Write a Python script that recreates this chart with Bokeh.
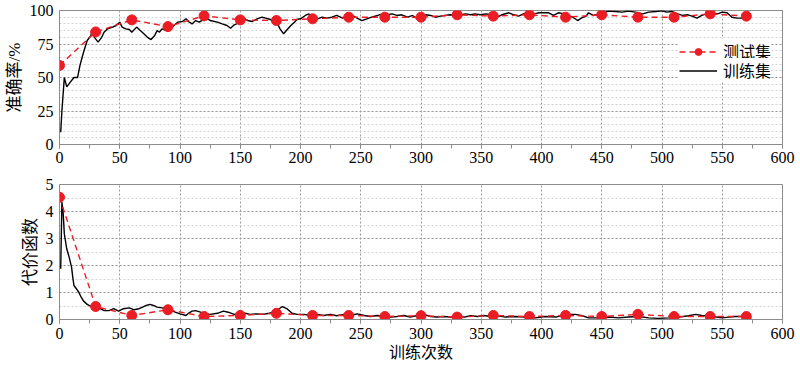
from bokeh.plotting import figure
from bokeh.models import Range1d, SingleIntervalTicker, Legend, LegendItem
from bokeh.layouts import column
from bokeh.embed import file_html
from bokeh.resources import INLINE

# ---------------- data ----------------
test_iter = [0, 30, 60, 90, 120, 150, 180, 210, 240, 270,
             300, 330, 360, 390, 420, 450, 480, 510, 540, 570]
test_acc = [59, 84, 93, 88, 96, 93, 92.5, 93.8, 95, 95,
            95, 96.8, 95.8, 96.8, 95, 96.8, 95, 95, 97.5, 95.8]
test_cost = [4.53, 0.48, 0.15, 0.36, 0.11, 0.15, 0.23, 0.15, 0.15, 0.11,
             0.14, 0.09, 0.15, 0.11, 0.15, 0.11, 0.19, 0.11, 0.11, 0.11]

train_acc_iter = [1, 2, 4, 6, 9, 12, 15, 17, 20, 23,
                  26, 27, 29, 32, 35, 37, 40, 44, 47, 50,
                  52, 55, 58, 60, 64, 67, 70, 73, 76, 79,
                  81, 83, 85, 89, 92, 95, 98, 102, 105, 107,
                  110, 113, 116, 118, 123, 125, 131, 135, 139, 142,
                  145, 147, 150, 153, 156, 160, 164, 168, 171, 175,
                  178, 181, 183, 186, 189, 192, 195, 197, 200, 204,
                  207, 210, 214, 218, 222, 226, 230, 235, 239, 243,
                  247, 251, 255, 259, 264, 268, 272, 276, 280, 284,
                  289, 293, 297, 300, 304, 308, 312, 316, 320, 324,
                  329, 333, 337, 341, 345, 349, 354, 358, 362, 367,
                  373, 377, 381, 385, 390, 394, 398, 402, 406, 410,
                  414, 419, 423, 426, 430, 433, 437, 439, 443, 448,
                  452, 456, 461, 467, 472, 478, 484, 489, 495, 500,
                  504, 508, 513, 517, 521, 525, 529, 533, 537, 542,
                  546, 550, 554, 558, 562, 567, 570]
train_acc = [9.2, 25, 50, 43, 46.5, 50, 50, 59, 69, 77.6,
             81.3, 83.8, 80, 76.4, 80, 83.8, 86.3, 87.6, 88.8, 91.3,
             87.6, 86.3, 85.8, 83.8, 87.6, 85, 82.6, 80, 78.3, 81.3,
             85, 83.8, 86.3, 85, 86.8, 88.8, 91.3, 91.8, 93.8, 91.8,
             90, 92.5, 91.3, 92.5, 93.8, 92.5, 91.3, 90, 88.8, 86.8,
             89.3, 90, 93.8, 94.3, 92.5, 91.8, 93.8, 95, 94.3, 93.3,
             91.3, 90, 86.3, 82.6, 85.8, 88.8, 91.3, 93.3, 93.8, 96.3,
             97.5, 94.3, 93.8, 95, 94.3, 95, 96.3, 94.3, 95.8, 96.3,
             94.3, 92.5, 93.8, 95, 96.3, 97.5, 96.8, 97.5, 96.3, 96.8,
             95, 96.3, 93.8, 91.8, 96.8, 96.3, 95, 95.8, 96.3, 96.8,
             96.3, 96.8, 97.5, 96.8, 97.5, 96.8, 97.5, 96.8, 94.5, 96.8,
             98.3, 96.8, 95.8, 97.5, 98.8, 97.5, 98.3, 98.3, 98.3, 96.3,
             98.3, 97.5, 95.8, 95, 92.5, 94.3, 95.8, 98.3, 96.3, 97.5,
             98.8, 99.5, 99.3, 98.8, 99.5, 98.8, 97.5, 98.8, 99.3, 99.8,
             98.8, 99.3, 97.5, 96.3, 96.8, 95.8, 94.3, 96.3, 97.5, 98.3,
             97.5, 98.8, 98.3, 95, 94.3, 94.3, 96.8]

train_cost_iter = [1, 2, 3, 4, 6, 8, 10, 11, 12, 14,
                   16, 18, 20, 23, 26, 29, 33, 37, 41, 45,
                   49, 53, 58, 62, 66, 69, 72, 75, 78, 81,
                   85, 88, 92, 96, 100, 105, 107, 110, 113, 117,
                   121, 125, 131, 136, 140, 145, 150, 154, 158, 164,
                   169, 174, 178, 182, 185, 189, 193, 197, 203, 208,
                   214, 219, 225, 230, 236, 241, 247, 253, 258, 264,
                   269, 275, 280, 286, 291, 297, 302, 308, 313, 319,
                   324, 330, 336, 341, 347, 352, 358, 363, 370, 378,
                   387, 395, 403, 412, 420, 428, 434, 439, 448, 456,
                   464, 472, 481, 489, 497, 506, 514, 522, 528, 533,
                   542, 550, 555, 561, 569]
train_cost = [1.88, 4.35, 3.97, 3.17, 2.62, 2.31, 1.94, 1.57, 1.26, 1.14,
              1.01, 0.83, 0.68, 0.56, 0.49, 0.48, 0.42, 0.33, 0.33, 0.40,
              0.31, 0.40, 0.43, 0.36, 0.40, 0.46, 0.52, 0.56, 0.52, 0.46,
              0.43, 0.40, 0.36, 0.27, 0.21, 0.15, 0.23, 0.31, 0.33, 0.27,
              0.21, 0.19, 0.23, 0.31, 0.27, 0.19, 0.21, 0.23, 0.19, 0.21,
              0.19, 0.23, 0.27, 0.39, 0.48, 0.39, 0.23, 0.19, 0.19, 0.15,
              0.19, 0.15, 0.19, 0.14, 0.19, 0.15, 0.21, 0.15, 0.11, 0.15,
              0.11, 0.09, 0.11, 0.15, 0.09, 0.15, 0.19, 0.11, 0.09, 0.11,
              0.09, 0.11, 0.09, 0.14, 0.11, 0.15, 0.11, 0.15, 0.09, 0.11,
              0.09, 0.06, 0.11, 0.09, 0.19, 0.19, 0.14, 0.06, 0.06, 0.09,
              0.06, 0.09, 0.11, 0.06, 0.04, 0.06, 0.09, 0.14, 0.19, 0.15,
              0.11, 0.06, 0.09, 0.11, 0.11]

acc_label = "准确率/%"
cost_label = "代价函数"
x_label = "训练次数"
test_name = "测试集"
train_name = "训练集"

# ---------------- style ----------------
SERIF = "Liberation Serif"
MIXED = "Liberation Serif, Noto Sans CJK SC"
RED = "#ec1c24"
AXIS_GRAY = "#8c8c8c"
W = 798


def make_fig(height, top, bottom, ymax, ymaj, yminor):
    p = figure(width=W, height=height, output_backend="svg", toolbar_location=None,
               x_range=Range1d(0, 600), y_range=Range1d(0, ymax),
               min_border_left=59, min_border_right=16,
               min_border_top=top, min_border_bottom=bottom)
    p.background_fill_color = "white"
    p.border_fill_color = "white"
    p.outline_line_color = AXIS_GRAY
    p.outline_line_width = 1
    p.xaxis.ticker = SingleIntervalTicker(interval=50, num_minor_ticks=2)
    p.yaxis.ticker = SingleIntervalTicker(interval=ymaj, num_minor_ticks=yminor)
    for ax in (p.xaxis, p.yaxis):
        ax.axis_line_color = AXIS_GRAY
        ax.major_tick_line_color = AXIS_GRAY
        ax.minor_tick_line_color = AXIS_GRAY
        ax.major_tick_in = 0
        ax.minor_tick_in = 0
        ax.major_label_text_font = SERIF
        ax.major_label_text_font_size = "16px"
        ax.major_label_text_color = "black"
        ax.axis_label_text_font = MIXED
        ax.axis_label_text_font_size = "17px"
        ax.axis_label_text_font_style = "normal"
        ax.axis_label_text_color = "black"
    p.xaxis.major_tick_out = 4
    p.xaxis.minor_tick_out = 4
    p.xaxis.major_label_standoff = 3
    p.yaxis.major_tick_out = 0
    p.yaxis.minor_tick_out = 0
    p.yaxis.major_label_standoff = 6
    p.yaxis.axis_label_standoff = 3
    p.xgrid.grid_line_color = "#9a9a9a"
    p.xgrid.grid_line_dash = "2 2"
    p.xgrid.minor_grid_line_color = None
    p.ygrid.grid_line_color = "#9a9a9a"
    p.ygrid.grid_line_dash = "2 2"
    p.ygrid.minor_grid_line_color = "#d2d2d2"
    p.ygrid.minor_grid_line_dash = "2 2"
    return p


def one_legend(label, renderers, loc):
    return Legend(items=[LegendItem(label=label, renderers=renderers)],
                  location=loc, border_line_color=None,
                  background_fill_color="white", background_fill_alpha=1.0,
                  glyph_width=38, glyph_height=17, label_height=17,
                  spacing=0, padding=3, margin=0, label_standoff=6,
                  label_text_font=MIXED, label_text_font_size="16px",
                  label_text_color="black")


# ---------- top: accuracy ----------
p1 = make_fig(170, 10, 26, 100, 25, 5)
p1.yaxis.axis_label = acc_label
r_train = p1.line(train_acc_iter, train_acc, line_color="black", line_width=1.4)
r_tl = p1.line(test_iter, test_acc, line_color=RED, line_width=1.4, line_dash="6 4")
r_ts = p1.scatter(test_iter, test_acc, size=10, marker="circle",
                  fill_color=RED, line_color=RED)

p1.add_layout(one_legend(test_name, [r_tl, r_ts], (620, 81)))
p1.add_layout(one_legend(train_name, [r_train], (620, 62)))

# ---------- bottom: cost ----------
p2 = make_fig(198, 14, 49, 5, 1, 2)
p2.yaxis.axis_label = cost_label
p2.xaxis.axis_label = x_label
p2.xaxis.axis_label_text_font_size = "16px"
p2.xaxis.major_label_standoff = 4
p2.xaxis.axis_label_standoff = 2
p2.line(train_cost_iter, train_cost, line_color="black", line_width=1.4)
p2.line(test_iter, test_cost, line_color=RED, line_width=1.4, line_dash="6 4")
p2.scatter(test_iter, test_cost, size=10, marker="circle",
           fill_color=RED, line_color=RED)

layout = column(p1, p2, spacing=0)
open("out.html", "w").write(file_html(layout, INLINE))
